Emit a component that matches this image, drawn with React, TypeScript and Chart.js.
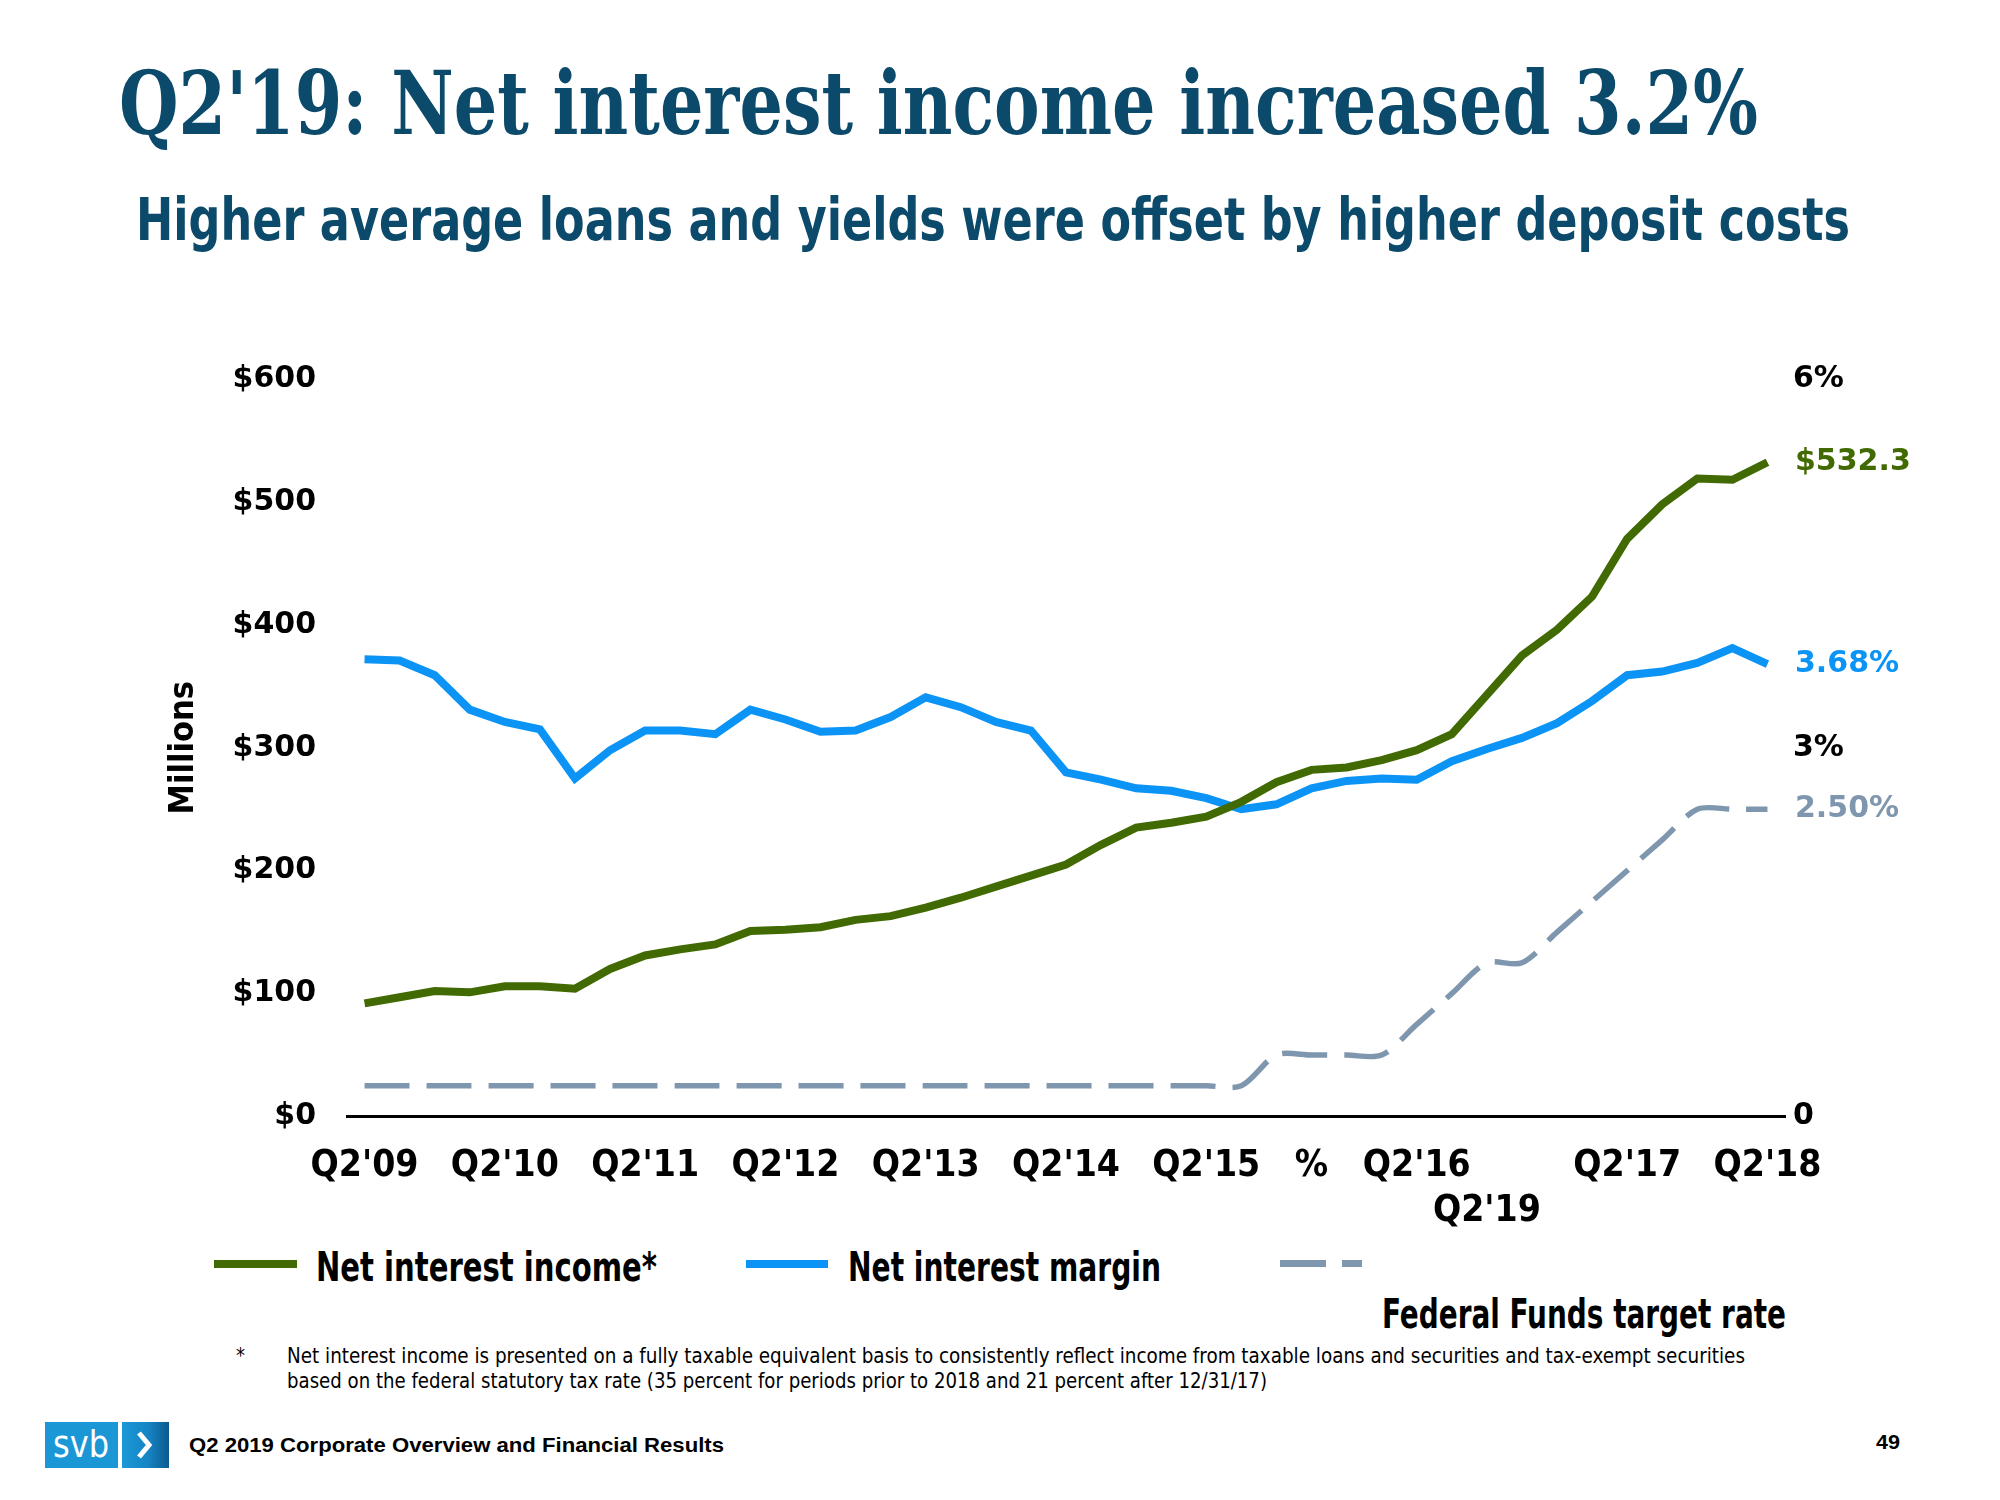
import React, { useEffect, useLayoutEffect, useRef } from "react";
import { Chart, registerables } from "chart.js";

Chart.register(...registerables);

// ---------- DATA ----------
const quarters = [
  "Q2'09", "Q3'09", "Q4'09", "Q1'10", "Q2'10", "Q3'10", "Q4'10", "Q1'11",
  "Q2'11", "Q3'11", "Q4'11", "Q1'12", "Q2'12", "Q3'12", "Q4'12", "Q1'13",
  "Q2'13", "Q3'13", "Q4'13", "Q1'14", "Q2'14", "Q3'14", "Q4'14", "Q1'15",
  "Q2'15", "Q3'15", "Q4'15", "Q1'16", "Q2'16", "Q3'16", "Q4'16", "Q1'17",
  "Q2'17", "Q3'17", "Q4'17", "Q1'18", "Q2'18", "Q3'18", "Q4'18", "Q1'19",
  "Q2'19",
];

// Net interest income ($ millions)
const netInterestIncome = [
  92, 97, 102, 101, 106, 106, 104, 120, 131, 136, 140, 151, 152, 154, 160,
  163, 170, 178, 187, 196, 205, 221, 235, 239, 244, 256, 272, 282, 284, 290,
  298, 311, 343, 375, 396, 423, 470, 498, 519, 518, 532.3,
];

// Net interest margin (%)
const netInterestMargin = [
  3.72, 3.71, 3.59, 3.31, 3.21, 3.15, 2.75, 2.98, 3.14, 3.14, 3.11, 3.31,
  3.23, 3.13, 3.14, 3.25, 3.41, 3.33, 3.21, 3.14, 2.8, 2.74, 2.67, 2.65, 2.59,
  2.5, 2.54, 2.67, 2.73, 2.75, 2.74, 2.89, 2.99, 3.08, 3.2, 3.38, 3.59, 3.62,
  3.69, 3.81, 3.68,
];

// Federal Funds target rate (%)
const fedFundsRate = [
  0.25, 0.25, 0.25, 0.25, 0.25, 0.25, 0.25, 0.25, 0.25, 0.25, 0.25, 0.25,
  0.25, 0.25, 0.25, 0.25, 0.25, 0.25, 0.25, 0.25, 0.25, 0.25, 0.25, 0.25,
  0.25, 0.25, 0.5, 0.5, 0.5, 0.5, 0.75, 1.0, 1.25, 1.25, 1.5, 1.75, 2.0, 2.25,
  2.5, 2.5, 2.5,
];

const seriesNames = ["Net interest income*", "Net interest margin", "Federal Funds target rate"];
const endLabels = ["$532.3", "3.68%", "2.50%"];

// x-axis tick labels as laid out on the slide
const tickIndices = [0, 4, 8, 12, 16, 20, 24, 27, 30, 32, 36, 40];
const tickTexts = ["Q2'09", "Q2'10", "Q2'11", "Q2'12", "Q2'13", "Q2'14", "Q2'15", "%", "Q2'16", "Q2'19", "Q2'17", "Q2'18"];
const tickRows = [0, 0, 0, 0, 0, 0, 0, 0, 0, 1, 0, 0];

const leftTickValues = [0, 100, 200, 300, 400, 500, 600];
const rightTickValues = [0, 3, 6];

// ---------- STYLE ----------
const GREEN = "#416b02";
const BLUE = "#0b93f5";
const GREY = "#7f97ae";
const NAVY = "#0c4a6b";
const NARROW = "'Liberation Sans Narrow', 'DejaVu Sans Condensed', 'Arial Narrow', sans-serif";
const WIDE = "'DejaVu Sans', Verdana, sans-serif";

function FitText(props: {
  text: string;
  left: number;
  top: number;
  width: number;
  size: number;
  family: string;
  weight?: number | string;
  color?: string;
}) {
  const ref = useRef<HTMLSpanElement>(null);
  useLayoutEffect(() => {
    const fit = () => {
      const el = ref.current;
      if (!el) return;
      el.style.transform = "none";
      const w = el.getBoundingClientRect().width;
      if (w > 0) el.style.transform = `scaleX(${props.width / w})`;
    };
    fit();
    if ((document as any).fonts && (document as any).fonts.ready) {
      (document as any).fonts.ready.then(fit);
    }
  }, [props.text, props.width, props.size, props.family]);
  return (
    <span
      ref={ref}
      style={{
        position: "absolute",
        left: props.left,
        top: props.top,
        fontSize: props.size,
        lineHeight: 1,
        fontFamily: props.family,
        fontWeight: props.weight ?? "bold",
        color: props.color ?? "#000",
        whiteSpace: "nowrap",
        transformOrigin: "0 0",
        display: "inline-block",
      }}
    >
      {props.text}
    </span>
  );
}

const endLabelPlugin = {
  id: "endLabels",
  afterDatasetsDraw(chart: any) {
    const ctx = chart.ctx;
    chart.data.datasets.forEach((ds: any, i: number) => {
      const meta = chart.getDatasetMeta(i);
      const pt = meta.data[meta.data.length - 1];
      if (!pt) return;
      ctx.save();
      ctx.font = `bold 30px ${WIDE}`;
      ctx.fillStyle = ds.borderColor;
      ctx.textBaseline = "middle";
      ctx.textAlign = "left";
      ctx.fillText(endLabels[i], chart.chartArea.right + 10, pt.y);
      ctx.restore();
    });
  },
};

function NIIChart() {
  const canvasRef = useRef<HTMLCanvasElement>(null);
  useEffect(() => {
    const canvas = canvasRef.current;
    if (!canvas) return;
    const chart = new Chart(canvas, {
      type: "line",
      data: {
        labels: quarters,
        datasets: [
          {
            label: seriesNames[0],
            data: netInterestIncome,
            borderColor: GREEN,
            backgroundColor: GREEN,
            borderWidth: 8,
            pointRadius: 0,
            tension: 0,
            yAxisID: "y",
          },
          {
            label: seriesNames[1],
            data: netInterestMargin,
            borderColor: BLUE,
            backgroundColor: BLUE,
            borderWidth: 8,
            pointRadius: 0,
            tension: 0,
            yAxisID: "y1",
          },
          {
            label: seriesNames[2],
            data: fedFundsRate,
            borderColor: GREY,
            backgroundColor: GREY,
            borderWidth: 5.5,
            borderDash: [45, 17],
            pointRadius: 0,
            tension: 0.3,
            yAxisID: "y1",
          },
        ],
      },
      options: {
        responsive: false,
        animation: false,
        devicePixelRatio: 1,
        layout: { padding: { left: 0, right: 0, top: 46, bottom: 0 } },
        plugins: {
          legend: { display: false },
          tooltip: { enabled: false },
          title: { display: false },
        },
        scales: {
          x: {
            type: "category",
            offset: true,
            grid: { display: false, drawTicks: false },
            border: { display: true, color: "#000", width: 3 },
            afterFit: (s: any) => {
              s.height = 123.5;
            },
            ticks: {
              autoSkip: false,
              maxRotation: 0,
              minRotation: 0,
              padding: 28,
              color: "#000",
              font: { family: NARROW, weight: "bold", size: 37, lineHeight: 1.2 },
              callback: (_v: any, idx: number) => {
                const k = tickIndices.indexOf(idx);
                if (k < 0) return "";
                return tickRows[k] ? ["", tickTexts[k]] : tickTexts[k];
              },
            },
          },
          y: {
            type: "linear",
            position: "left",
            min: 0,
            max: 600,
            grid: { display: false, drawTicks: false },
            border: { display: false },
            afterFit: (s: any) => {
              s.width = 347;
            },
            afterBuildTicks: (s: any) => {
              s.ticks = leftTickValues.map((v) => ({ value: v }));
            },
            title: {
              display: true,
              text: "Millions",
              color: "#000",
              font: { family: NARROW, weight: "bold", size: 34, lineHeight: 1.2 },
              padding: { top: 164, bottom: 0 },
            },
            ticks: {
              padding: 31,
              color: "#000",
              font: { family: WIDE, weight: "bold", size: 30 },
              callback: (v: any) => "$" + v,
            },
          },
          y1: {
            type: "linear",
            position: "right",
            min: 0,
            max: 6,
            grid: { display: false, drawTicks: false, drawOnChartArea: false },
            border: { display: false },
            afterFit: (s: any) => {
              s.width = 215;
            },
            afterBuildTicks: (s: any) => {
              s.ticks = rightTickValues.map((v) => ({ value: v }));
            },
            ticks: {
              padding: 8,
              color: "#000",
              font: { family: WIDE, weight: "bold", size: 30 },
              callback: (v: any) => (v === 0 ? "0" : v + "%"),
            },
          },
        },
      } as any,
      plugins: [endLabelPlugin],
    });
    return () => chart.destroy();
  }, []);
  return (
    <canvas
      ref={canvasRef}
      width={2000}
      height={910}
      style={{ position: "absolute", left: 0, top: 330, width: 2000, height: 910 }}
    />
  );
}

export default function App() {
  return (
    <div
      style={{
        position: "absolute",
        left: 0,
        top: 0,
        width: 2000,
        height: 1500,
        background: "#fff",
        overflow: "hidden",
      }}
    >
      <FitText
        text="Q2'19: Net interest income increased 3.2%"
        left={119}
        top={59}
        width={1639}
        size={88}
        family="'DejaVu Serif Condensed', 'DejaVu Serif', serif"
        color={NAVY}
      />
      <FitText
        text="Higher average loans and yields were offset by higher deposit costs"
        left={136}
        top={191}
        width={1714}
        size={58}
        family={NARROW}
        color={NAVY}
      />

      <NIIChart />

      {/* legend */}
      <div style={{ position: "absolute", left: 214, top: 1260, width: 83, height: 8, background: GREEN }} />
      <FitText text={seriesNames[0]} left={316} top={1247} width={341} size={40} family={NARROW} />
      <div style={{ position: "absolute", left: 746, top: 1260, width: 82, height: 8, background: BLUE }} />
      <FitText text={seriesNames[1]} left={848} top={1247} width={313} size={40} family={NARROW} />
      <div style={{ position: "absolute", left: 1280, top: 1260, width: 46, height: 7, background: GREY }} />
      <div style={{ position: "absolute", left: 1342, top: 1260, width: 20, height: 7, background: GREY }} />
      <FitText text={seriesNames[2]} left={1382} top={1294} width={404} size={40} family={NARROW} />

      {/* footnote */}
      <FitText text="*" left={236} top={1346} width={9} size={21} family={NARROW} weight="normal" />
      <FitText
        text="Net interest income is presented on a fully taxable equivalent basis to consistently reflect income from taxable loans and securities and tax-exempt securities"
        left={287}
        top={1346}
        width={1458}
        size={21}
        family={NARROW}
        weight="normal"
      />
      <FitText
        text="based on the federal statutory tax rate (35 percent for periods prior to 2018 and 21 percent after 12/31/17)"
        left={287}
        top={1371}
        width={980}
        size={21}
        family={NARROW}
        weight="normal"
      />

      {/* footer */}
      <div
        style={{
          position: "absolute",
          left: 45,
          top: 1422,
          width: 73,
          height: 46,
          background: "#1b97d6",
        }}
      />
      <FitText text="svb" left={53} top={1425} width={56} size={38} family={NARROW} weight="normal" color="#fff" />
      <div
        style={{
          position: "absolute",
          left: 122,
          top: 1422,
          width: 47,
          height: 46,
          background: "linear-gradient(90deg, #1c98d8 0%, #1685c4 55%, #0b5a8e 100%)",
        }}
      >
        <svg width={47} height={46} style={{ position: "absolute", left: 0, top: 0 }}>
          <polyline points="17,11 27,23 17,35" fill="none" stroke="#fff" strokeWidth={5} />
        </svg>
      </div>
      <FitText
        text="Q2 2019 Corporate Overview and Financial Results"
        left={189}
        top={1435}
        width={535}
        size={20}
        family="'Liberation Sans', Arial, sans-serif"
      />
      <FitText text="49" left={1876} top={1432} width={24} size={20} family="'Liberation Sans', Arial, sans-serif" />
    </div>
  );
}
